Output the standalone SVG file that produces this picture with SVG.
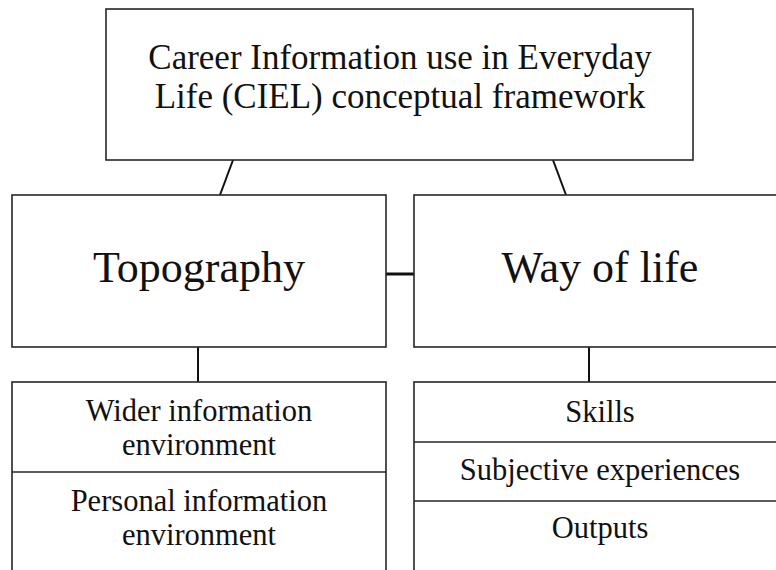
<svg xmlns="http://www.w3.org/2000/svg" width="776" height="570" viewBox="0 0 776 570">
<style>
.box{fill:#fff;stroke:#262626;stroke-width:1.6}
.div{stroke:#262626;stroke-width:1.6;fill:none}
.con{stroke:#111;stroke-width:2;fill:none}
text{font-family:"Liberation Serif","Times New Roman",serif;fill:#111;text-anchor:middle}
.t1{font-size:35px}
.t2{font-size:44px}
.t3{font-size:30.5px}
</style>
<rect width="776" height="570" fill="#fff"/>
<g id="connectors">
<line class="con" x1="233" y1="160" x2="220" y2="195"/>
<line class="con" x1="553" y1="160" x2="566" y2="195"/>
<line class="con" x1="386" y1="274" x2="414" y2="274" style="stroke-width:3"/>
<line class="con" x1="198" y1="347" x2="198" y2="382"/>
<line class="con" x1="589" y1="347" x2="589" y2="382"/>
</g>
<g id="ciel">
<rect class="box" x="106" y="9" width="587" height="151"/>
<text class="t1" x="400" y="69">Career Information use in Everyday</text>
<text class="t1" x="400" y="108">Life (CIEL) conceptual framework</text>
</g>
<g id="topography">
<rect class="box" x="12" y="195" width="374" height="152"/>
<text class="t2" x="199" y="282">Topography</text>
</g>
<g id="way-of-life">
<rect class="box" x="414" y="195" width="374" height="152"/>
<text class="t2" x="600" y="282">Way of life</text>
</g>
<g id="topography-items">
<rect class="box" x="12" y="382" width="374" height="200"/>
<line class="div" x1="12" y1="472" x2="386" y2="472"/>
<text class="t3" x="199" y="421">Wider information</text>
<text class="t3" x="199" y="455">environment</text>
<text class="t3" x="199" y="511">Personal information</text>
<text class="t3" x="199" y="545">environment</text>
</g>
<g id="way-of-life-items">
<rect class="box" x="414" y="382" width="374" height="200"/>
<line class="div" x1="414" y1="442" x2="788" y2="442"/>
<line class="div" x1="414" y1="501" x2="788" y2="501"/>
<text class="t3" x="600" y="422">Skills</text>
<text class="t3" x="600" y="480">Subjective experiences</text>
<text class="t3" x="600" y="538">Outputs</text>
</g>
</svg>
